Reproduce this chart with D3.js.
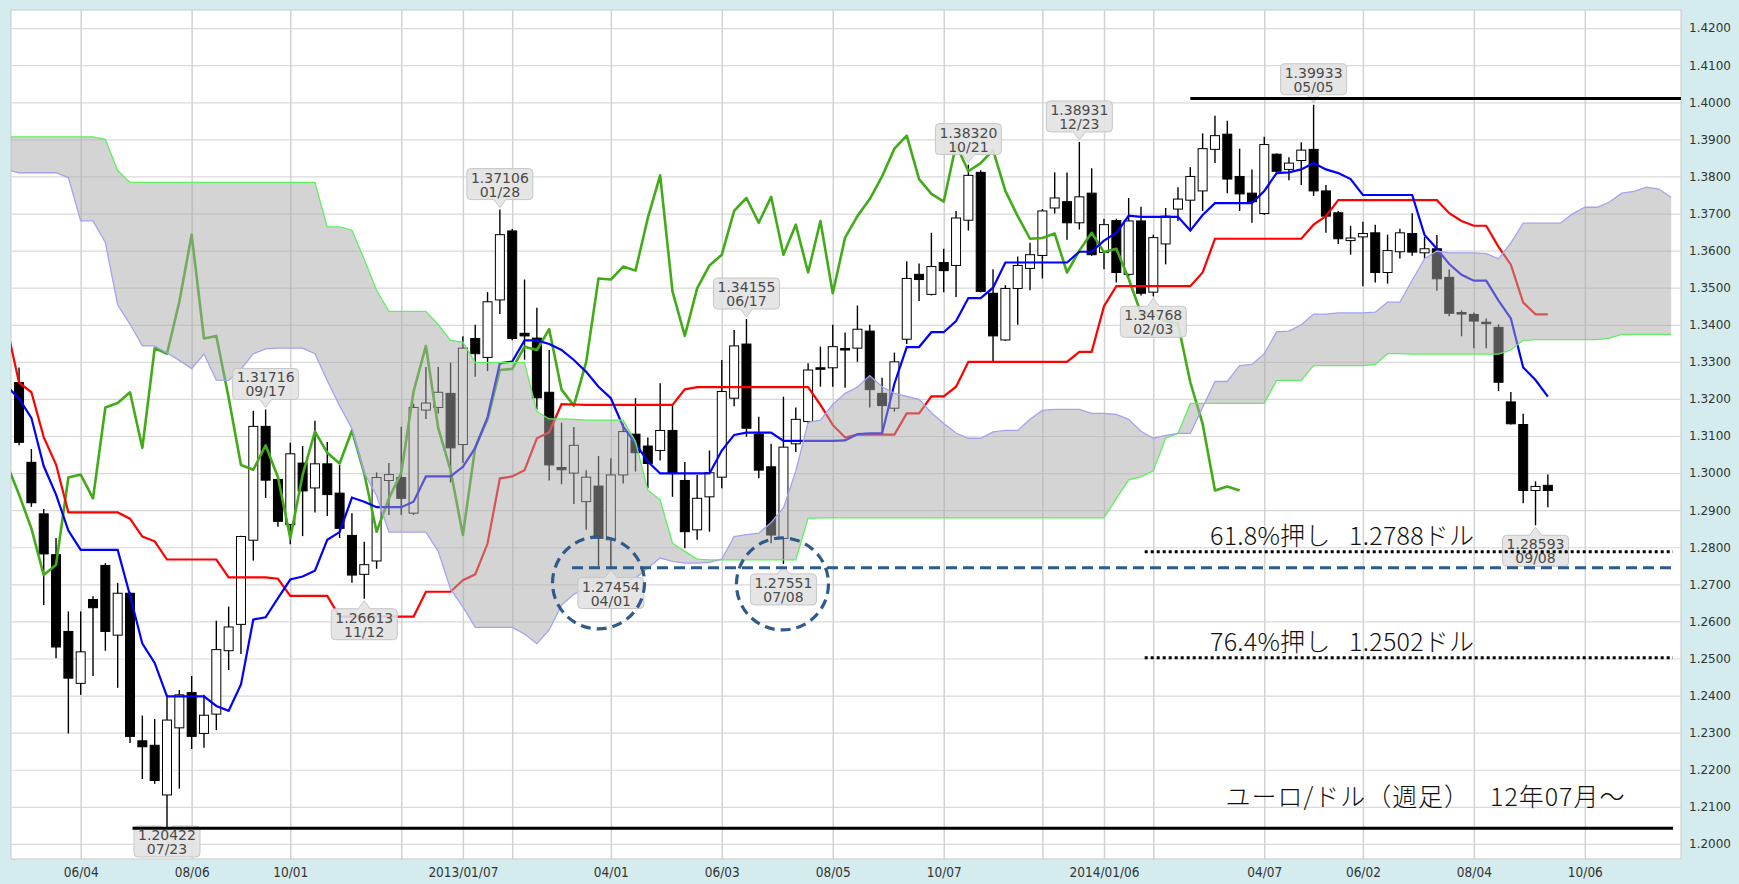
<!DOCTYPE html>
<html>
<head>
<meta charset="utf-8">
<script src="https://cdn.jsdelivr.net/npm/d3@7"></script>
<style>
  body { margin: 0; background: #d4ecee; }
  svg text { font-family: "DejaVu Sans", sans-serif; }
</style>
</head>
<body>
<div id="chart"></div>
<script>
/* DATA (weekly EUR/USD, week 0 = 2012/06/04) */
const candleStart = -5;   // first candle week
const open = [
  1.3244, 1.3029, 1.2890, 1.2780, 1.2573, 1.2433, 1.2659, 1.2751, 1.2563, 1.2676,
  1.2278, 1.2266, 1.2132, 1.2313, 1.2408, 1.2298, 1.2350, 1.2521, 1.2592, 1.2819,
  1.3126, 1.2983, 1.2861, 1.3027, 1.2960, 1.3025, 1.2946, 1.2832, 1.2727, 1.2763,
  1.2980, 1.2988, 1.2892, 1.3170, 1.3177, 1.3215, 1.3077, 1.3363, 1.3312, 1.3467,
  1.3653, 1.3377, 1.3364, 1.3218, 1.3015, 1.3000, 1.2923, 1.2965, 1.2820, 1.2995,
  1.3105, 1.3073, 1.3061, 1.3115, 1.2980, 1.2847, 1.2936, 1.2989, 1.3202, 1.3348,
  1.3105, 1.3017, 1.2824, 1.3079, 1.3139, 1.3284, 1.3284, 1.3336, 1.3337, 1.3383,
  1.3215, 1.3175, 1.3361, 1.3536, 1.3482, 1.3568, 1.3560, 1.3682, 1.3811, 1.3485,
  1.3359, 1.3498, 1.3552, 1.3587, 1.3715, 1.3732, 1.3675, 1.3755, 1.3595, 1.3681,
  1.3536, 1.3680, 1.3488, 1.3618, 1.3712, 1.3736, 1.3761, 1.3873, 1.3914, 1.3800,
  1.3755, 1.3700, 1.3860, 1.3819, 1.3843, 1.3873, 1.3761, 1.3702, 1.3627, 1.3637,
  1.3648, 1.3541, 1.3597, 1.3646, 1.3594, 1.3605, 1.3528, 1.3433, 1.3428, 1.3407,
  1.3393, 1.3192, 1.3131, 1.2953, 1.2967
];
const high = [
  1.3285, 1.3065, 1.2903, 1.2825, 1.2627, 1.2627, 1.2668, 1.2757, 1.2704, 1.2680,
  1.2346, 1.2337, 1.2402, 1.2415, 1.2453, 1.2402, 1.2602, 1.2640, 1.2831, 1.3168,
  1.31716, 1.2990, 1.3082, 1.3073, 1.3141, 1.3084, 1.3022, 1.2892, 1.2815, 1.3002,
  1.3027, 1.3125, 1.3187, 1.3286, 1.3286, 1.3298, 1.3369, 1.3400, 1.3488, 1.37106,
  1.3658, 1.3522, 1.3446, 1.3332, 1.3136, 1.3124, 1.3008, 1.3046, 1.3040, 1.3134,
  1.3202, 1.3096, 1.3242, 1.3184, 1.3030, 1.2995, 1.3061, 1.3305, 1.3386, 1.34155,
  1.3152, 1.3079, 1.3206, 1.3177, 1.3296, 1.3341, 1.3400, 1.3379, 1.3452, 1.3400,
  1.3257, 1.3325, 1.3571, 1.3565, 1.3648, 1.3605, 1.3707, 1.38320, 1.3817, 1.3550,
  1.3507, 1.3584, 1.3621, 1.3712, 1.3811, 1.3811, 1.38931, 1.3822, 1.3686, 1.3686,
  1.3742, 1.3718, 1.3643, 1.3715, 1.3771, 1.3825, 1.3916, 1.3964, 1.3950, 1.3875,
  1.3819, 1.3907, 1.3862, 1.3852, 1.3892, 1.39933, 1.3777, 1.3707, 1.3667, 1.3678,
  1.3670, 1.3643, 1.3659, 1.3701, 1.3637, 1.3642, 1.3549, 1.3439, 1.3433, 1.3417,
  1.3401, 1.3219, 1.3160, 1.2978, 1.2996
];
const low = [
  1.3075, 1.2909, 1.2644, 1.2501, 1.2298, 1.2402, 1.2453, 1.2521, 1.2421, 1.2272,
  1.2175, 1.2162, 1.20422, 1.2149, 1.2256, 1.2259, 1.2307, 1.2469, 1.2512, 1.2764,
  1.2933, 1.2855, 1.2808, 1.2830, 1.2894, 1.2884, 1.2825, 1.2704, 1.26613, 1.2742,
  1.2887, 1.2887, 1.2887, 1.3146, 1.3161, 1.2975, 1.3027, 1.3260, 1.3275, 1.3429,
  1.3358, 1.3306, 1.3172, 1.2980, 1.2970, 1.2917, 1.2847, 1.2748, 1.27454, 1.2972,
  1.3004, 1.2959, 1.3034, 1.2936, 1.2797, 1.2820, 1.2842, 1.2959, 1.3180, 1.3098,
  1.2986, 1.2811, 1.27551, 1.3057, 1.3134, 1.3233, 1.3233, 1.3230, 1.3300, 1.3177,
  1.3107, 1.3166, 1.3348, 1.3464, 1.3479, 1.3488, 1.3475, 1.3654, 1.3488, 1.3300,
  1.3357, 1.3400, 1.3493, 1.3525, 1.3700, 1.3629, 1.3657, 1.3586, 1.3550, 1.3514,
  1.3530, 1.3479, 1.34768, 1.3563, 1.3680, 1.3659, 1.3707, 1.3836, 1.3755, 1.3707,
  1.3675, 1.3696, 1.3809, 1.3790, 1.3777, 1.3747, 1.3648, 1.3618, 1.3589, 1.3504,
  1.3514, 1.3511, 1.3579, 1.3586, 1.3578, 1.3492, 1.3423, 1.3369, 1.3337, 1.3337,
  1.3221, 1.3131, 1.2919, 1.28593, 1.2908
];
const close = [
  1.3083, 1.2920, 1.2782, 1.2531, 1.2447, 1.2518, 1.2637, 1.2573, 1.2676, 1.2290,
  1.2262, 1.2171, 1.2334, 1.2402, 1.2290, 1.2347, 1.2524, 1.2585, 1.2829, 1.3126,
  1.2981, 1.2870, 1.3052, 1.2952, 1.3025, 1.2942, 1.2851, 1.2725, 1.2753, 1.2988,
  1.2996, 1.2932, 1.3177, 1.3189, 1.3218, 1.3068, 1.3337, 1.3322, 1.3462, 1.3643,
  1.3363, 1.3370, 1.3203, 1.3022, 1.3009, 1.3075, 1.2989, 1.2824, 1.2995, 1.3112,
  1.3055, 1.3026, 1.3115, 1.2999, 1.2842, 1.2932, 1.3001, 1.3220, 1.3343, 1.3121,
  1.3008, 1.2833, 1.3070, 1.3145, 1.3278, 1.3281, 1.3341, 1.3332, 1.3388, 1.3225,
  1.3182, 1.3300, 1.3525, 1.3522, 1.3557, 1.3546, 1.3688, 1.3803, 1.3490, 1.3370,
  1.3498, 1.3560, 1.3589, 1.3707, 1.3742, 1.3675, 1.3745, 1.3589, 1.3670, 1.3541,
  1.3680, 1.3485, 1.3635, 1.3693, 1.3739, 1.3800, 1.3875, 1.3910, 1.3793, 1.3753,
  1.3732, 1.3886, 1.3814, 1.3836, 1.3871, 1.3761, 1.3693, 1.3632, 1.3634, 1.3646,
  1.3541, 1.3600, 1.3648, 1.3596, 1.3605, 1.3524, 1.3431, 1.3430, 1.3410, 1.3403,
  1.3245, 1.3133, 1.2953, 1.2964, 1.2953
];

const lineStart = -6;     // first week of the indicator lines
// 転換線 (blue)
const tenkan = [
  1.3235, 1.3201, 1.3149, 1.3019, 1.2942, 1.2845, 1.2793, 1.2793, 1.2793, 1.2793,
  1.2670, 1.2540, 1.2488, 1.2398, 1.2398, 1.2398, 1.2398, 1.2372, 1.2359, 1.2430,
  1.2605, 1.2611, 1.2663, 1.2713, 1.2721, 1.2737, 1.2820, 1.2841, 1.2934, 1.2923,
  1.2908, 1.2908, 1.2908, 1.2923, 1.2991, 1.2991, 1.2991, 1.3017, 1.3068, 1.3151,
  1.3296, 1.3301, 1.3358, 1.3358, 1.3348, 1.3332, 1.3305, 1.3273, 1.3233, 1.3202,
  1.3125, 1.3080, 1.3031, 1.2999, 1.2999, 1.2999, 1.2999, 1.2999, 1.3061, 1.3103,
  1.3109, 1.3109, 1.3109, 1.3087, 1.3087, 1.3087, 1.3087, 1.3087, 1.3088, 1.3105,
  1.3107, 1.3107, 1.3241, 1.3340, 1.3340, 1.3380, 1.3380, 1.3410, 1.3472, 1.3472,
  1.3500, 1.3568, 1.3568, 1.3568, 1.3568, 1.3568, 1.3568, 1.3597, 1.3597, 1.3627,
  1.3648, 1.3694, 1.3691, 1.3691, 1.3691, 1.3691, 1.3654, 1.3696, 1.3728, 1.3728,
  1.3728, 1.3728, 1.3761, 1.3809, 1.3811, 1.3819, 1.3836, 1.3819, 1.3809, 1.3793,
  1.3750, 1.3750, 1.3750, 1.3750, 1.3750, 1.3642, 1.3605, 1.3564, 1.3535, 1.3519,
  1.3519, 1.3465, 1.3417, 1.3285, 1.3251, 1.3206
];
// 基準線 (red)
const kijun = [
  1.3395, 1.3244, 1.3218, 1.3097, 1.3023, 1.2894, 1.2894, 1.2894, 1.2894, 1.2894,
  1.2877, 1.2829, 1.2816, 1.2767, 1.2767, 1.2767, 1.2767, 1.2767, 1.2719, 1.2719,
  1.2719, 1.2719, 1.2715, 1.2669, 1.2669, 1.2669, 1.2669, 1.2613, 1.2613, 1.2613,
  1.2613, 1.2613, 1.2613, 1.2613, 1.2680, 1.2680, 1.2680, 1.2711, 1.2727, 1.2810,
  1.2986, 1.2991, 1.3008, 1.3094, 1.3110, 1.3186, 1.3185, 1.3184, 1.3184, 1.3184,
  1.3184, 1.3184, 1.3184, 1.3184, 1.3184, 1.3226, 1.3232, 1.3232, 1.3232, 1.3232,
  1.3232, 1.3232, 1.3232, 1.3232, 1.3232, 1.3232, 1.3184, 1.3130, 1.3096, 1.3104,
  1.3104, 1.3104, 1.3104, 1.3161, 1.3161, 1.3207, 1.3207, 1.3233, 1.3300, 1.3300,
  1.3300, 1.3300, 1.3300, 1.3300, 1.3300, 1.3300, 1.3300, 1.3327, 1.3327, 1.3450,
  1.3504, 1.3504, 1.3504, 1.3504, 1.3504, 1.3504, 1.3504, 1.3541, 1.3632, 1.3632,
  1.3632, 1.3632, 1.3632, 1.3632, 1.3632, 1.3632, 1.3670, 1.3693, 1.3736, 1.3736,
  1.3736, 1.3736, 1.3736, 1.3736, 1.3736, 1.3736, 1.3736, 1.3701, 1.3680, 1.3667,
  1.3667, 1.3610, 1.3562, 1.3460, 1.3428, 1.3428
];
// 遅行スパン (green), weeks -6 .. 94
const chikou = [
  1.3025, 1.2942, 1.2851, 1.2725, 1.2753, 1.2988, 1.2996, 1.2932, 1.3177, 1.3189,
  1.3218, 1.3068, 1.3337, 1.3322, 1.3462, 1.3643, 1.3363, 1.3370, 1.3203, 1.3022,
  1.3009, 1.3075, 1.2989, 1.2824, 1.2995, 1.3112, 1.3055, 1.3026, 1.3115, 1.2999,
  1.2842, 1.2932, 1.3001, 1.3220, 1.3343, 1.3121, 1.3008, 1.2833, 1.3070, 1.3145,
  1.3278, 1.3281, 1.3341, 1.3332, 1.3388, 1.3225, 1.3182, 1.3300, 1.3525, 1.3522,
  1.3557, 1.3546, 1.3688, 1.3803, 1.3490, 1.3370, 1.3498, 1.3560, 1.3589, 1.3707,
  1.3742, 1.3675, 1.3745, 1.3589, 1.3670, 1.3541, 1.3680, 1.3485, 1.3635, 1.3693,
  1.3739, 1.3800, 1.3875, 1.3910, 1.3793, 1.3753, 1.3732, 1.3886, 1.3814, 1.3836,
  1.3871, 1.3761, 1.3693, 1.3632, 1.3634, 1.3646, 1.3541, 1.3600, 1.3648, 1.3596,
  1.3605, 1.3524, 1.3431, 1.3430, 1.3410, 1.3403, 1.3245, 1.3133, 1.2953, 1.2964,
  1.2953
];
// 先行スパン1 (light green edge), weeks -6 .. 129
const spanA = [
  1.3907, 1.3907, 1.3907, 1.3907, 1.3907, 1.3907, 1.3907, 1.3907, 1.3900, 1.3816,
  1.3784, 1.3784, 1.3784, 1.3784, 1.3784, 1.3784, 1.3784, 1.3784, 1.3784, 1.3784,
  1.3784, 1.3784, 1.3784, 1.3784, 1.3784, 1.3784, 1.3664, 1.3664, 1.3655, 1.3576,
  1.3493, 1.3436, 1.3436, 1.3436, 1.3436, 1.3400, 1.3358, 1.3353, 1.3298, 1.3298,
  1.3298, 1.3298, 1.3298, 1.3166, 1.3146, 1.3146, 1.3145, 1.3143, 1.3143, 1.3143,
  1.3143, 1.3085, 1.2954, 1.2928, 1.2811, 1.2789, 1.2768, 1.2766, 1.2766, 1.2766,
  1.2766, 1.2766, 1.2766, 1.2766, 1.2766, 1.2878, 1.2879, 1.2879, 1.2879, 1.2879,
  1.2879, 1.2879, 1.2879, 1.2879, 1.2879, 1.2879, 1.2879, 1.2879, 1.2879, 1.2879,
  1.2879, 1.2879, 1.2879, 1.2879, 1.2879, 1.2879, 1.2879, 1.2879, 1.2879, 1.2879,
  1.2931, 1.2982, 1.2990, 1.3006, 1.3094, 1.3107, 1.3188, 1.3188, 1.3188, 1.3188,
  1.3188, 1.3188, 1.3188, 1.3250, 1.3250, 1.3250, 1.3290, 1.3290, 1.3290, 1.3290,
  1.3290, 1.3293, 1.3322, 1.3322, 1.3321, 1.3321, 1.3321, 1.3321, 1.3321, 1.3321,
  1.3321, 1.3321, 1.3332, 1.3358, 1.3360, 1.3360, 1.3360, 1.3360, 1.3360, 1.3360,
  1.3364, 1.3374, 1.3374, 1.3374, 1.3374, 1.3374
];
// 先行スパン2 (lavender edge), weeks -6 .. 129
const spanB = [
  1.3818, 1.3810, 1.3810, 1.3810, 1.3810, 1.3797, 1.3680, 1.3680, 1.3622, 1.3453,
  1.3402, 1.3343, 1.3343, 1.3324, 1.3304, 1.3282, 1.3321, 1.3251, 1.3250, 1.3280,
  1.3322, 1.3335, 1.3337, 1.3337, 1.3337, 1.3322, 1.3249, 1.3182, 1.3120, 1.3001,
  1.2939, 1.2841, 1.2841, 1.2841, 1.2841, 1.2789, 1.2687, 1.2639, 1.2584, 1.2584,
  1.2584, 1.2584, 1.2566, 1.2540, 1.2577, 1.2644, 1.2673, 1.2690, 1.2699, 1.2703,
  1.2708, 1.2717, 1.2744, 1.2771, 1.2762, 1.2757, 1.2757, 1.2759, 1.2768, 1.2829,
  1.2834, 1.2838, 1.2867, 1.2906, 1.3005, 1.3137, 1.3143, 1.3185, 1.3215, 1.3232,
  1.3263, 1.3233, 1.3215, 1.3207, 1.3199, 1.3163, 1.3134, 1.3108, 1.3094, 1.3094,
  1.3111, 1.3115, 1.3115, 1.3145, 1.3169, 1.3172, 1.3172, 1.3172, 1.3161, 1.3161,
  1.3158, 1.3145, 1.3113, 1.3094, 1.3102, 1.3107, 1.3107, 1.3177, 1.3247, 1.3247,
  1.3290, 1.3293, 1.3322, 1.3381, 1.3383, 1.3400, 1.3429, 1.3429, 1.3432, 1.3432,
  1.3432, 1.3434, 1.3461, 1.3461, 1.3520, 1.3578, 1.3599, 1.3594, 1.3594, 1.3594,
  1.3592, 1.3578, 1.3621, 1.3674, 1.3674, 1.3674, 1.3674, 1.3699, 1.3717, 1.3717,
  1.3731, 1.3755, 1.3760, 1.3771, 1.3766, 1.3744
];

// x axis ticks (week index) and labels
const tickWeeks  = [0, 9, 17, 26, 31, 35, 43, 52, 61, 70, 78, 83, 87, 96, 104, 113, 122];
const tickLabels = ["06/04", "08/06", "10/01", "", "2013/01/07", "", "04/01", "06/03", "08/05",
                    "10/07", "", "2014/01/06", "", "04/07", "06/02", "08/04", "10/06"];
const yTicks = d3.range(120, 143).map(d => d / 100);

// high / low callouts
const tipWeeks  = [15, 7, 23, 34, 43, 54, 57, 72, 81, 87, 100, 118];
const tipPrices = [1.31716, 1.20422, 1.26613, 1.37106, 1.27454, 1.34155, 1.27551, 1.38320, 1.38931, 1.34768, 1.39933, 1.28593];
const tipDates  = ["09/17", "07/23", "11/12", "01/28", "04/01", "06/17", "07/08", "10/21", "12/23", "02/03", "05/05", "09/08"];
const tipIsHigh = [true, false, false, true, false, true, false, true, true, false, true, false];

// horizontal reference lines
const refPrices = [1.4010, 1.2042, 1.2745, 1.2788, 1.2502];
const refFrom   = [90.0, 4.2, 39.85, 86.3, 86.3];
const refTo     = [129.8, 129.15, 129.15, 129.15, 129.15];
const refKind   = ["solid", "solid", "dash", "dot", "dot"];

// dashed circles around the two lows
const circleWeeks  = [42.0, 56.92];
const circlePrices = [1.2704, 1.2701];

const notes = ["61.8%押し\u2002 1.2788ドル", "76.4%押し\u2002 1.2502ドル", "ユーロ/ドル（週足）\u2002 12年07月～"];

/* LAYOUT */
const width = 1739, height = 884;
const plot = {left: 11, right: 1681, top: 10, bottom: 859};
const WEEK = 7 * 24 * 3600 * 1000;
const base = Date.UTC(2012, 5, 4);
const wd = i => new Date(base + i * WEEK);

const x = d3.scaleUtc()
  .domain([wd(-5.653), wd(129.8)])
  .range([plot.left, plot.right]);
const y = d3.scaleLinear()
  .domain([1.19593, 1.42489])
  .range([plot.bottom, plot.top]);

const svg = d3.select("#chart").append("svg")
  .attr("width", width)
  .attr("height", height);

svg.append("rect").attr("width", width).attr("height", height).attr("fill", "#d4ecee");
svg.append("rect")
  .attr("x", plot.left).attr("y", plot.top)
  .attr("width", plot.right - plot.left).attr("height", plot.bottom - plot.top)
  .attr("fill", "#fff").attr("stroke", "#c9c9c9");

svg.append("clipPath").attr("id", "clip")
  .append("rect")
  .attr("x", plot.left).attr("y", plot.top)
  .attr("width", plot.right - plot.left).attr("height", plot.bottom - plot.top);

// grid
const gy = svg.append("g")
  .attr("transform", `translate(${plot.left},0)`)
  .call(d3.axisLeft(y).tickValues(yTicks).tickSize(-(plot.right - plot.left)).tickFormat(""));
gy.select(".domain").remove();
gy.selectAll("line").attr("stroke", "#d9d9d9").attr("stroke-width", 1.2);

const gx = svg.append("g")
  .attr("transform", `translate(0,${plot.bottom})`)
  .call(d3.axisBottom(x).tickValues(tickWeeks.map(wd)).tickSize(-(plot.bottom - plot.top)).tickFormat(""));
gx.select(".domain").remove();
gx.selectAll("line").attr("stroke", "#d2d2d2").attr("stroke-width", 1.5);

const inner = svg.append("g").attr("clip-path", "url(#clip)");

// candles
const candles = open.map((o, i) => ({w: i + candleStart, o, h: high[i], l: low[i], c: close[i]}));
const cg = inner.append("g");
cg.selectAll("line.wick")
  .data(candles)
  .join("line")
  .attr("class", "wick")
  .attr("x1", d => x(wd(d.w))).attr("x2", d => x(wd(d.w)))
  .attr("y1", d => y(d.h)).attr("y2", d => y(d.l))
  .attr("stroke", "#000").attr("stroke-width", 1.4);
cg.selectAll("rect.body")
  .data(candles)
  .join("rect")
  .attr("class", "body")
  .attr("x", d => x(wd(d.w)) - 4.5)
  .attr("width", 9)
  .attr("y", d => y(Math.max(d.o, d.c)))
  .attr("height", d => Math.max(1.5, Math.abs(y(d.o) - y(d.c))))
  .attr("fill", d => d.c >= d.o ? "#fff" : "#000")
  .attr("stroke", "#000").attr("stroke-width", 1);

// indicator lines
const lineGen = start => d3.line()
  .x((d, i) => x(wd(i + start)))
  .y(d => y(d));

inner.append("path").datum(chikou)
  .attr("d", lineGen(lineStart))
  .attr("fill", "none").attr("stroke", "#42ab18").attr("stroke-width", 2.6).attr("stroke-linejoin", "round");
inner.append("path").datum(kijun)
  .attr("d", lineGen(lineStart))
  .attr("fill", "none").attr("stroke", "#ff0000").attr("stroke-width", 2.2);
inner.append("path").datum(tenkan)
  .attr("d", lineGen(lineStart))
  .attr("fill", "none").attr("stroke", "#0000ff").attr("stroke-width", 2.2);

// cloud (drawn over the price, half transparent)
const cloud = d3.area()
  .x((d, i) => x(wd(i + lineStart)))
  .y0((d, i) => y(spanA[i]))
  .y1((d, i) => y(spanB[i]));
inner.append("path").datum(spanA)
  .attr("d", cloud)
  .attr("fill", "#aaaaaa").attr("fill-opacity", 0.5);
inner.append("path").datum(spanA)
  .attr("d", lineGen(lineStart))
  .attr("fill", "none").attr("stroke", "#5fef5f").attr("stroke-width", 1.3);
inner.append("path").datum(spanB)
  .attr("d", lineGen(lineStart))
  .attr("fill", "none").attr("stroke", "#a3a3f0").attr("stroke-width", 1.3);

// callouts
const bw = 66, bh = 31, rr = 4;
function calloutPath(px, py, top, isHigh) {
  const l = px - bw / 2, r = px + bw / 2, b = top + bh;
  if (isHigh) {
    return `M${l + rr},${top} H${r - rr} Q${r},${top} ${r},${top + rr} V${b - rr} Q${r},${b} ${r - rr},${b}
      H${px + 6} L${px},${py - 2} L${px - 6},${b} H${l + rr} Q${l},${b} ${l},${b - rr} V${top + rr} Q${l},${top} ${l + rr},${top} Z`;
  }
  return `M${l + rr},${top} H${px - 6} L${px},${py + 2} L${px + 6},${top} H${r - rr} Q${r},${top} ${r},${top + rr}
    V${b - rr} Q${r},${b} ${r - rr},${b} H${l + rr} Q${l},${b} ${l},${b - rr} V${top + rr} Q${l},${top} ${l + rr},${top} Z`;
}
const tips = tipWeeks.map((w, i) => {
  const px = x(wd(w)), py = y(tipPrices[i]);
  let top = tipIsHigh[i] ? py - 10 - bh : py + 10;
  top = Math.max(plot.top + 1, Math.min(plot.bottom - bh - 2, top));
  return {px, py, top, hi: tipIsHigh[i], price: tipPrices[i].toFixed(5), date: tipDates[i]};
});
const tg = svg.append("g").selectAll("g").data(tips).join("g");
tg.append("path")
  .attr("d", d => calloutPath(d.px, d.py, d.top, d.hi))
  .attr("fill", "#e2e2e2").attr("fill-opacity", 0.9)
  .attr("stroke", "#c6c6c6");
tg.append("text")
  .attr("x", d => d.px).attr("y", d => d.top + 14)
  .attr("text-anchor", "middle").attr("font-size", 14).attr("fill", "#4a4a4a")
  .text(d => d.price);
tg.append("text")
  .attr("x", d => d.px).attr("y", d => d.top + 28)
  .attr("text-anchor", "middle").attr("font-size", 14).attr("fill", "#4a4a4a")
  .text(d => d.date);

// reference lines
const dashFor = {solid: null, dash: "11,6", dot: "3,3"};
svg.append("g").selectAll("line")
  .data(refPrices)
  .join("line")
  .attr("x1", (d, i) => x(wd(refFrom[i])))
  .attr("x2", (d, i) => x(wd(refTo[i])))
  .attr("y1", d => y(d)).attr("y2", d => y(d))
  .attr("stroke", (d, i) => refKind[i] === "dash" ? "#2f5b8c" : "#000")
  .attr("stroke-width", 3)
  .attr("stroke-dasharray", (d, i) => dashFor[refKind[i]]);

svg.append("g").selectAll("circle")
  .data(circleWeeks)
  .join("circle")
  .attr("cx", d => x(wd(d)))
  .attr("cy", (d, i) => y(circlePrices[i]))
  .attr("r", 46)
  .attr("fill", "none")
  .attr("stroke", "#2f5b8c").attr("stroke-width", 3.2)
  .attr("stroke-dasharray", "10,6");

// notes
const noteX = [x(wd(91.6)), x(wd(91.6)), x(wd(92.85))];
const noteY = [y(1.2788) - 7, y(1.2502) - 7, y(1.2042) - 22];
const noteW = [264, 264, 399];
svg.append("g").selectAll("text")
  .data(notes)
  .join("text")
  .attr("x", (d, i) => noteX[i])
  .attr("y", (d, i) => noteY[i])
  .attr("textLength", (d, i) => noteW[i])
  .attr("lengthAdjust", "spacing")
  .style("font-family", '"Noto Sans CJK JP", sans-serif')
  .style("font-weight", 300)
  .attr("font-size", 25)
  .attr("fill", "#111")
  .text(d => d);

// axes labels
const xa = svg.append("g")
  .attr("transform", `translate(0,${plot.bottom})`)
  .call(d3.axisBottom(x).tickValues(tickWeeks.map(wd)).tickSize(0).tickPadding(8)
    .tickFormat((d, i) => tickLabels[i]));
xa.select(".domain").remove();
xa.selectAll("text")
  .style("font-family", '"DejaVu Sans Condensed", "DejaVu Sans", sans-serif')
  .style("font-stretch", "condensed")
  .attr("font-size", 13.5).attr("fill", "#333");

const ya = svg.append("g")
  .attr("transform", `translate(${plot.right},0)`)
  .call(d3.axisRight(y).tickValues(yTicks).tickSize(0).tickPadding(8).tickFormat(d3.format(".4f")));
ya.select(".domain").remove();
ya.selectAll("text").attr("font-size", 12).attr("fill", "#333");
</script>
</body>
</html>
